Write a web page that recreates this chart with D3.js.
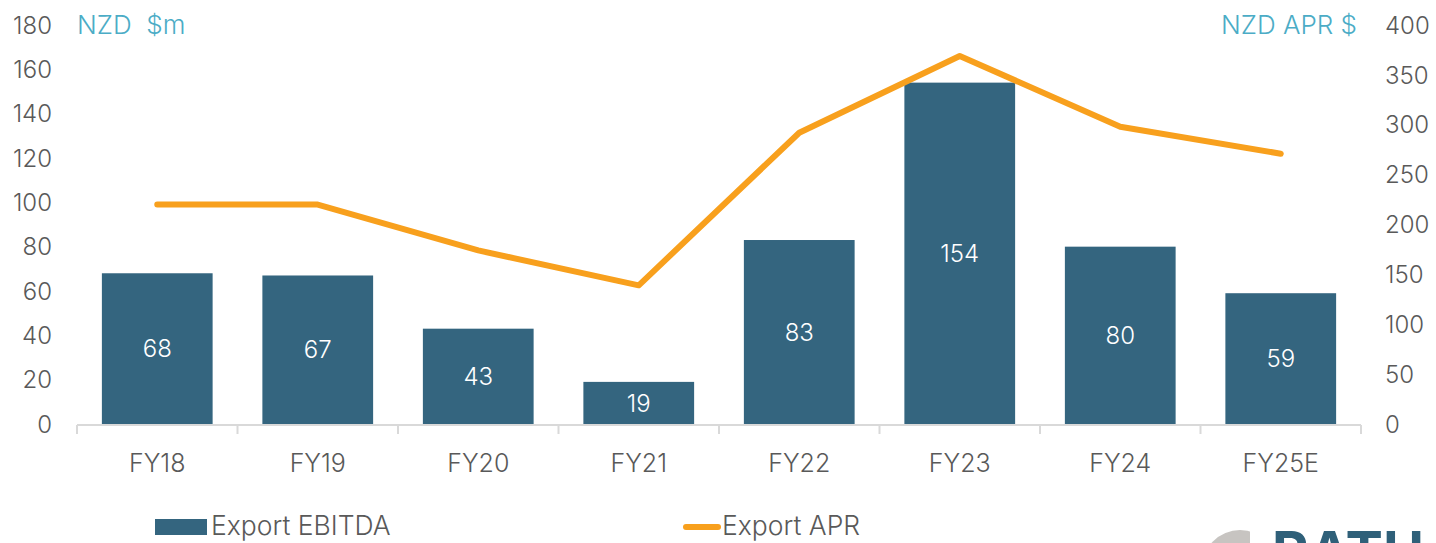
<!DOCTYPE html>
<html>
<head>
<meta charset="utf-8">
<script src="https://cdn.jsdelivr.net/npm/d3@7"></script>
<style>
  body { margin: 0; background: #fff; }
  svg { display: block; font-family: Inter, "Open Sans", sans-serif; }
</style>
</head>
<body>
<script>
// chart data
const years = ["FY18", "FY19", "FY20", "FY21", "FY22", "FY23", "FY24", "FY25E"];
const ebitda = [68, 67, 43, 19, 83, 154, 80, 59];
const apr = [220, 220, 174, 139, 292, 369, 298, 271];
const leftTicks = [0, 20, 40, 60, 80, 100, 120, 140, 160, 180];
const rightTicks = [0, 50, 100, 150, 200, 250, 300, 350, 400];

const width = 1436;
const height = 543;
const barColor = "#34657f";
const lineColor = "#f8a01d";
const textColor = "#595959";
const titleColor = "#4bacc6";
const fs = 24;

const svg = d3.select("body").append("svg")
    .attr("width", width)
    .attr("height", height);

const x = d3.scaleBand()
    .domain(years)
    .range([77, 1361])
    .paddingInner(0.31)
    .paddingOuter(0.155);

const yL = d3.scaleLinear().domain([0, 180]).range([424, 25]);
const yR = d3.scaleLinear().domain([0, 400]).range([424, 25]);

// left axis labels
svg.append("g")
  .selectAll("text")
  .data(leftTicks)
  .join("text")
    .attr("x", 52)
    .attr("y", d => yL(d))
    .attr("dy", "0.36em")
    .attr("text-anchor", "end")
    .attr("font-size", fs)
    .attr("font-weight", 300)
    .attr("fill", textColor)
    .text(d => d);

// right axis labels
svg.append("g")
  .selectAll("text")
  .data(rightTicks)
  .join("text")
    .attr("x", 1385)
    .attr("y", d => yR(d))
    .attr("dy", "0.36em")
    .attr("font-size", fs)
    .attr("font-weight", 300)
    .attr("fill", textColor)
    .text(d => d);

// unit titles
svg.append("text")
    .attr("x", 77).attr("y", 25).attr("dy", "0.36em")
    .attr("font-size", 26).attr("font-weight", 300)
    .attr("fill", titleColor)
    .attr("xml:space", "preserve")
    .text("NZD  $m");

svg.append("text")
    .attr("x", 1357).attr("y", 25).attr("dy", "0.36em")
    .attr("text-anchor", "end")
    .attr("font-size", 26).attr("font-weight", 300)
    .attr("fill", titleColor)
    .text("NZD APR $");

// bars
svg.append("g")
  .selectAll("rect")
  .data(years)
  .join("rect")
    .attr("x", d => x(d))
    .attr("width", x.bandwidth())
    .attr("y", (d, i) => yL(ebitda[i]))
    .attr("height", (d, i) => yL(0) - yL(ebitda[i]))
    .attr("fill", barColor);

// bar labels
svg.append("g")
  .selectAll("text")
  .data(years)
  .join("text")
    .attr("x", d => x(d) + x.bandwidth() / 2)
    .attr("y", (d, i) => (yL(ebitda[i]) + yL(0)) / 2)
    .attr("dy", "0.36em")
    .attr("text-anchor", "middle")
    .attr("font-size", fs)
    .attr("font-weight", 300)
    .attr("fill", "#fff")
    .text((d, i) => ebitda[i]);

// x axis line and ticks
const step = x.step();
const axis = svg.append("g").attr("stroke", "#d9d9d9").attr("stroke-width", 2);
axis.append("line")
    .attr("x1", 77).attr("x2", 1361)
    .attr("y1", yL(0) + 1).attr("y2", yL(0) + 1);
axis.selectAll("line.tick")
  .data(d3.range(years.length + 1))
  .join("line")
    .attr("class", "tick")
    .attr("x1", i => 77 + i * step).attr("x2", i => 77 + i * step)
    .attr("y1", yL(0) + 1).attr("y2", yL(0) + 10);

svg.append("g")
  .selectAll("text")
  .data(years)
  .join("text")
    .attr("x", d => x(d) + x.bandwidth() / 2)
    .attr("y", 463)
    .attr("dy", "0.36em")
    .attr("text-anchor", "middle")
    .attr("font-size", 25)
    .attr("font-weight", 300)
    .attr("fill", textColor)
    .text(d => d);

// APR line
const line = d3.line()
    .x((d, i) => x(years[i]) + x.bandwidth() / 2)
    .y(d => yR(d));

svg.append("path")
    .datum(apr)
    .attr("d", line)
    .attr("fill", "none")
    .attr("stroke", lineColor)
    .attr("stroke-width", 6)
    .attr("stroke-linecap", "round")
    .attr("stroke-linejoin", "round");

// legend
svg.append("rect")
    .attr("x", 155).attr("y", 519)
    .attr("width", 52).attr("height", 16)
    .attr("fill", barColor);
svg.append("text")
    .attr("x", 211).attr("y", 525).attr("dy", "0.36em")
    .attr("font-size", 26.5).attr("font-weight", 300)
    .attr("fill", textColor)
    .text("Export EBITDA");

svg.append("line")
    .attr("x1", 686).attr("x2", 718)
    .attr("y1", 527).attr("y2", 527)
    .attr("stroke", lineColor)
    .attr("stroke-width", 6)
    .attr("stroke-linecap", "round");
svg.append("text")
    .attr("x", 722).attr("y", 525).attr("dy", "0.36em")
    .attr("font-size", 26.5).attr("font-weight", 300)
    .attr("fill", textColor)
    .text("Export APR");

// partly visible logo at the bottom edge
svg.append("circle")
    .attr("cx", 1240).attr("cy", 568).attr("r", 38)
    .attr("fill", "#c7c4c1");
svg.append("rect")
    .attr("x", 1250).attr("y", 520).attr("width", 30).attr("height", 30)
    .attr("fill", "#fff");
svg.append("text")
    .attr("x", 1272).attr("y", 572)
    .attr("font-size", 56)
    .attr("font-weight", 700)
    .attr("fill", "#2f6079")
    .text("RATU");
</script>
</body>
</html>
